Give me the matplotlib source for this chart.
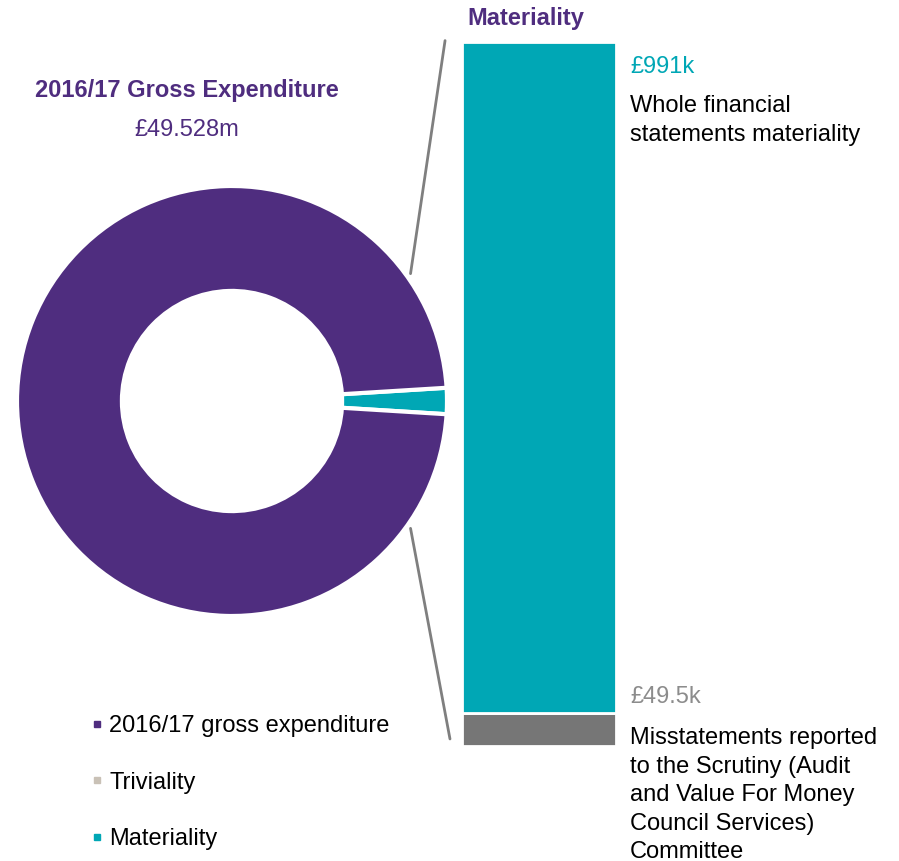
import matplotlib
matplotlib.use("Agg")
import matplotlib.pyplot as plt
from matplotlib.lines import Line2D
from matplotlib.patches import ConnectionPatch
import numpy as np

plt.rcParams['font.family'] = ['Liberation Sans', 'DejaVu Sans']

# ---- data ----
legend_labels = ['2016/17 gross expenditure', 'Triviality', 'Materiality']
gross_expenditure_k = 49528
materiality_k = 991
triviality_k = 49.5
donut_values = [materiality_k, gross_expenditure_k]
bar_values = [triviality_k, materiality_k]  # bottom to top

PURPLE = '#4f2d7f'
TEAL = '#00a7b5'
GREY = '#767676'
TRIV_LEG = '#c9c1b6'
LINE = '#7f7f7f'

W, H = 899, 861
fig = plt.figure(figsize=(W / 100, H / 100), dpi=100)

def px_axes(left, top, width, height):
    return fig.add_axes([left / W, 1 - (top + height) / H, width / W, height / H])

# ---- donut ----
cx, cy, R = 232, 401, 215
half = 240
axd = px_axes(cx - half, cy - half, 2 * half, 2 * half)
lim = half / R
frac = donut_values[0] / sum(donut_values)
axd.pie(donut_values, colors=[TEAL, PURPLE], startangle=-frac * 180,
        counterclock=True, radius=1,
        wedgeprops=dict(width=0.488, edgecolor='white', linewidth=3))
axd.set_xlim(-lim, lim)
axd.set_ylim(-lim, lim)
axd.set_aspect('equal')
axd.axis('off')

# ---- stacked bar ----
bar_top, bar_bot = 42, 746
axb = px_axes(462, bar_top, 154, bar_bot - bar_top)
total = sum(bar_values)
axb.bar([0], [bar_values[0]], width=1, color=GREY, edgecolor='white', linewidth=2)
axb.bar([0], [bar_values[1]], bottom=[bar_values[0]], width=1, color=TEAL,
        edgecolor='white', linewidth=2)
axb.set_xlim(-0.5, 0.5)
axb.set_ylim(0, total)
axb.axis('off')

# ---- connector lines ----
ang = np.deg2rad(35.5)
r_line = 1.02
for sgn, ybar, xbar in [(1, total * 1.002, -0.61), (-1, total * 0.01, -0.578)]:
    con = ConnectionPatch(xyA=(r_line * np.cos(ang), sgn * r_line * np.sin(ang)), coordsA=axd.transData,
                          xyB=(xbar, ybar), coordsB=axb.transData,
                          color=LINE, linewidth=2.0)
    fig.add_artist(con)

# ---- texts ----
def ftext(x, y, s, **kw):
    fig.text(x / W, 1 - y / H, s, **kw)

fs = 17
ftext(187, 91, '2016/17 Gross Expenditure', color=PURPLE, fontsize=fs, fontweight='bold',
      ha='center', va='center')
ftext(187, 130, f'£{gross_expenditure_k / 1000:.3f}m', color=PURPLE, fontsize=fs,
      ha='center', va='center')
ftext(526, 18, 'Materiality', color=PURPLE, fontsize=fs, fontweight='bold', ha='center', va='center')
ftext(630, 67, f'£{materiality_k}k', color=TEAL, fontsize=fs, ha='left', va='center')
ftext(630, 95, 'Whole financial\nstatements materiality', color='black', fontsize=fs,
      ha='left', va='top', linespacing=1.43)
ftext(630, 697, f'£{triviality_k}k', color='#8c8c8c', fontsize=fs, ha='left', va='center')
ftext(630, 727, 'Misstatements reported\nto the Scrutiny (Audit\nand Value For Money\nCouncil Services)\nCommittee',
      color='black', fontsize=fs, ha='left', va='top', linespacing=1.385)

# ---- legend ----
handles = [Line2D([], [], linestyle='none', marker='s', markersize=5, color=c)
           for c in [PURPLE, TRIV_LEG, TEAL]]
fig.legend(handles, legend_labels, loc='upper left', bbox_to_anchor=(92 / W, 1 - 715 / H),
           frameon=False, fontsize=fs, handlelength=0.45, handletextpad=0.28,
           labelspacing=1.47, borderpad=0, borderaxespad=0)

fig.savefig('out.png', dpi=100)
